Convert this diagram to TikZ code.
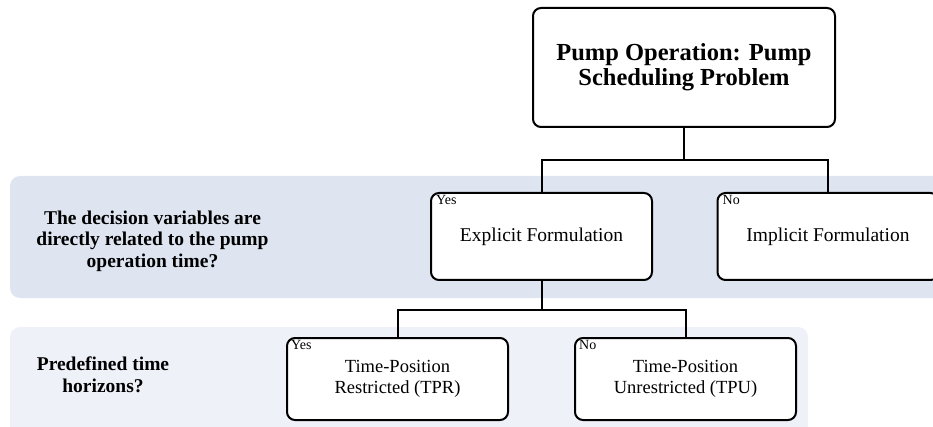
\documentclass[tikz,border=0pt]{standalone}
\usepackage{fontspec}
\setmainfont{Liberation Serif}
\usetikzlibrary{backgrounds}
\usetikzlibrary{shapes}
\definecolor{bandblue}{HTML}{DEE5F1}
\definecolor{bandpale}{HTML}{EEF1F8}
\tikzstyle{every picture}=[x=1pt, y=-1pt]
\tikzstyle{linkline}=[line width=2pt]
\tikzstyle{box}=[draw, line width=2pt, rounded corners=8pt, fill=white, align=center, inner sep=0pt, minimum width=221pt, font=\fontsize{19.5}{22}\selectfont]
\tikzstyle{subbox}=[box, minimum height=82pt, font=\fontsize{18.5}{21.5}\selectfont]
\tikzstyle{question}=[align=center, font=\fontsize{19.5}{21.5}\selectfont\bfseries]
\tikzstyle{tag}=[anchor=north west, inner sep=0pt, font=\fontsize{14}{14}\selectfont]

\begin{document}
\begin{tikzpicture}

	\clip (0,0) rectangle (933,427);

	% shaded bands behind the two questions
	\fill[bandblue, rounded corners=10pt] (10,176) rectangle (960,298);
	\fill[bandpale, rounded corners=10pt] (10,327) rectangle (808,450);

	\path (684,67.5) node [box, minimum width=302pt, minimum height=119pt, font=\fontsize{24.5}{25}\selectfont\bfseries] (pso) {Pump Operation: Pump\\Scheduling Problem}
	   (541.5,236.5) node [box, minimum height=87pt] (explicit) {Explicit Formulation}
	   (828,236.5) node [box, minimum height=87pt] (implicit) {Implicit Formulation}
	   (397.5,379) node [subbox] (tpr) {Time-Position\\Restricted (TPR)}
	   (685.5,379) node [subbox] (tpu) {Time-Position\\Unrestricted (TPU)}
	   (152.5,241) node [question] (q_1) {The decision variables are\\directly related to the pump\\operation time?}
	   (103,375) node [question] (q_2) {Predefined time\\horizons?};

	\node[tag] (explicit_yes) at ([shift={(6,3)}]explicit.north west) {Yes};
	\node[tag] (implicit_no) at ([shift={(6,3)}]implicit.north west) {No};
	\node[tag] (tpr_yes) at ([shift={(5,3)}]tpr.north west) {Yes};
	\node[tag] (tpu_no) at ([shift={(5,3)}]tpu.north west) {No};

	\coordinate (split_1) at (pso.south |- 0,160);
	\coordinate (split_2) at (explicit.south |- 0,310);

	\draw[linkline] (pso.south) -- (split_1);
	\draw[linkline] (split_1) -| (explicit.north);
	\draw[linkline] (split_1) -| (implicit.north);
	\draw[linkline] (explicit.south) -- (split_2);
	\draw[linkline] (split_2) -| (tpr.north);
	\draw[linkline] (split_2) -| (tpu.north);

\end{tikzpicture}
\end{document}
